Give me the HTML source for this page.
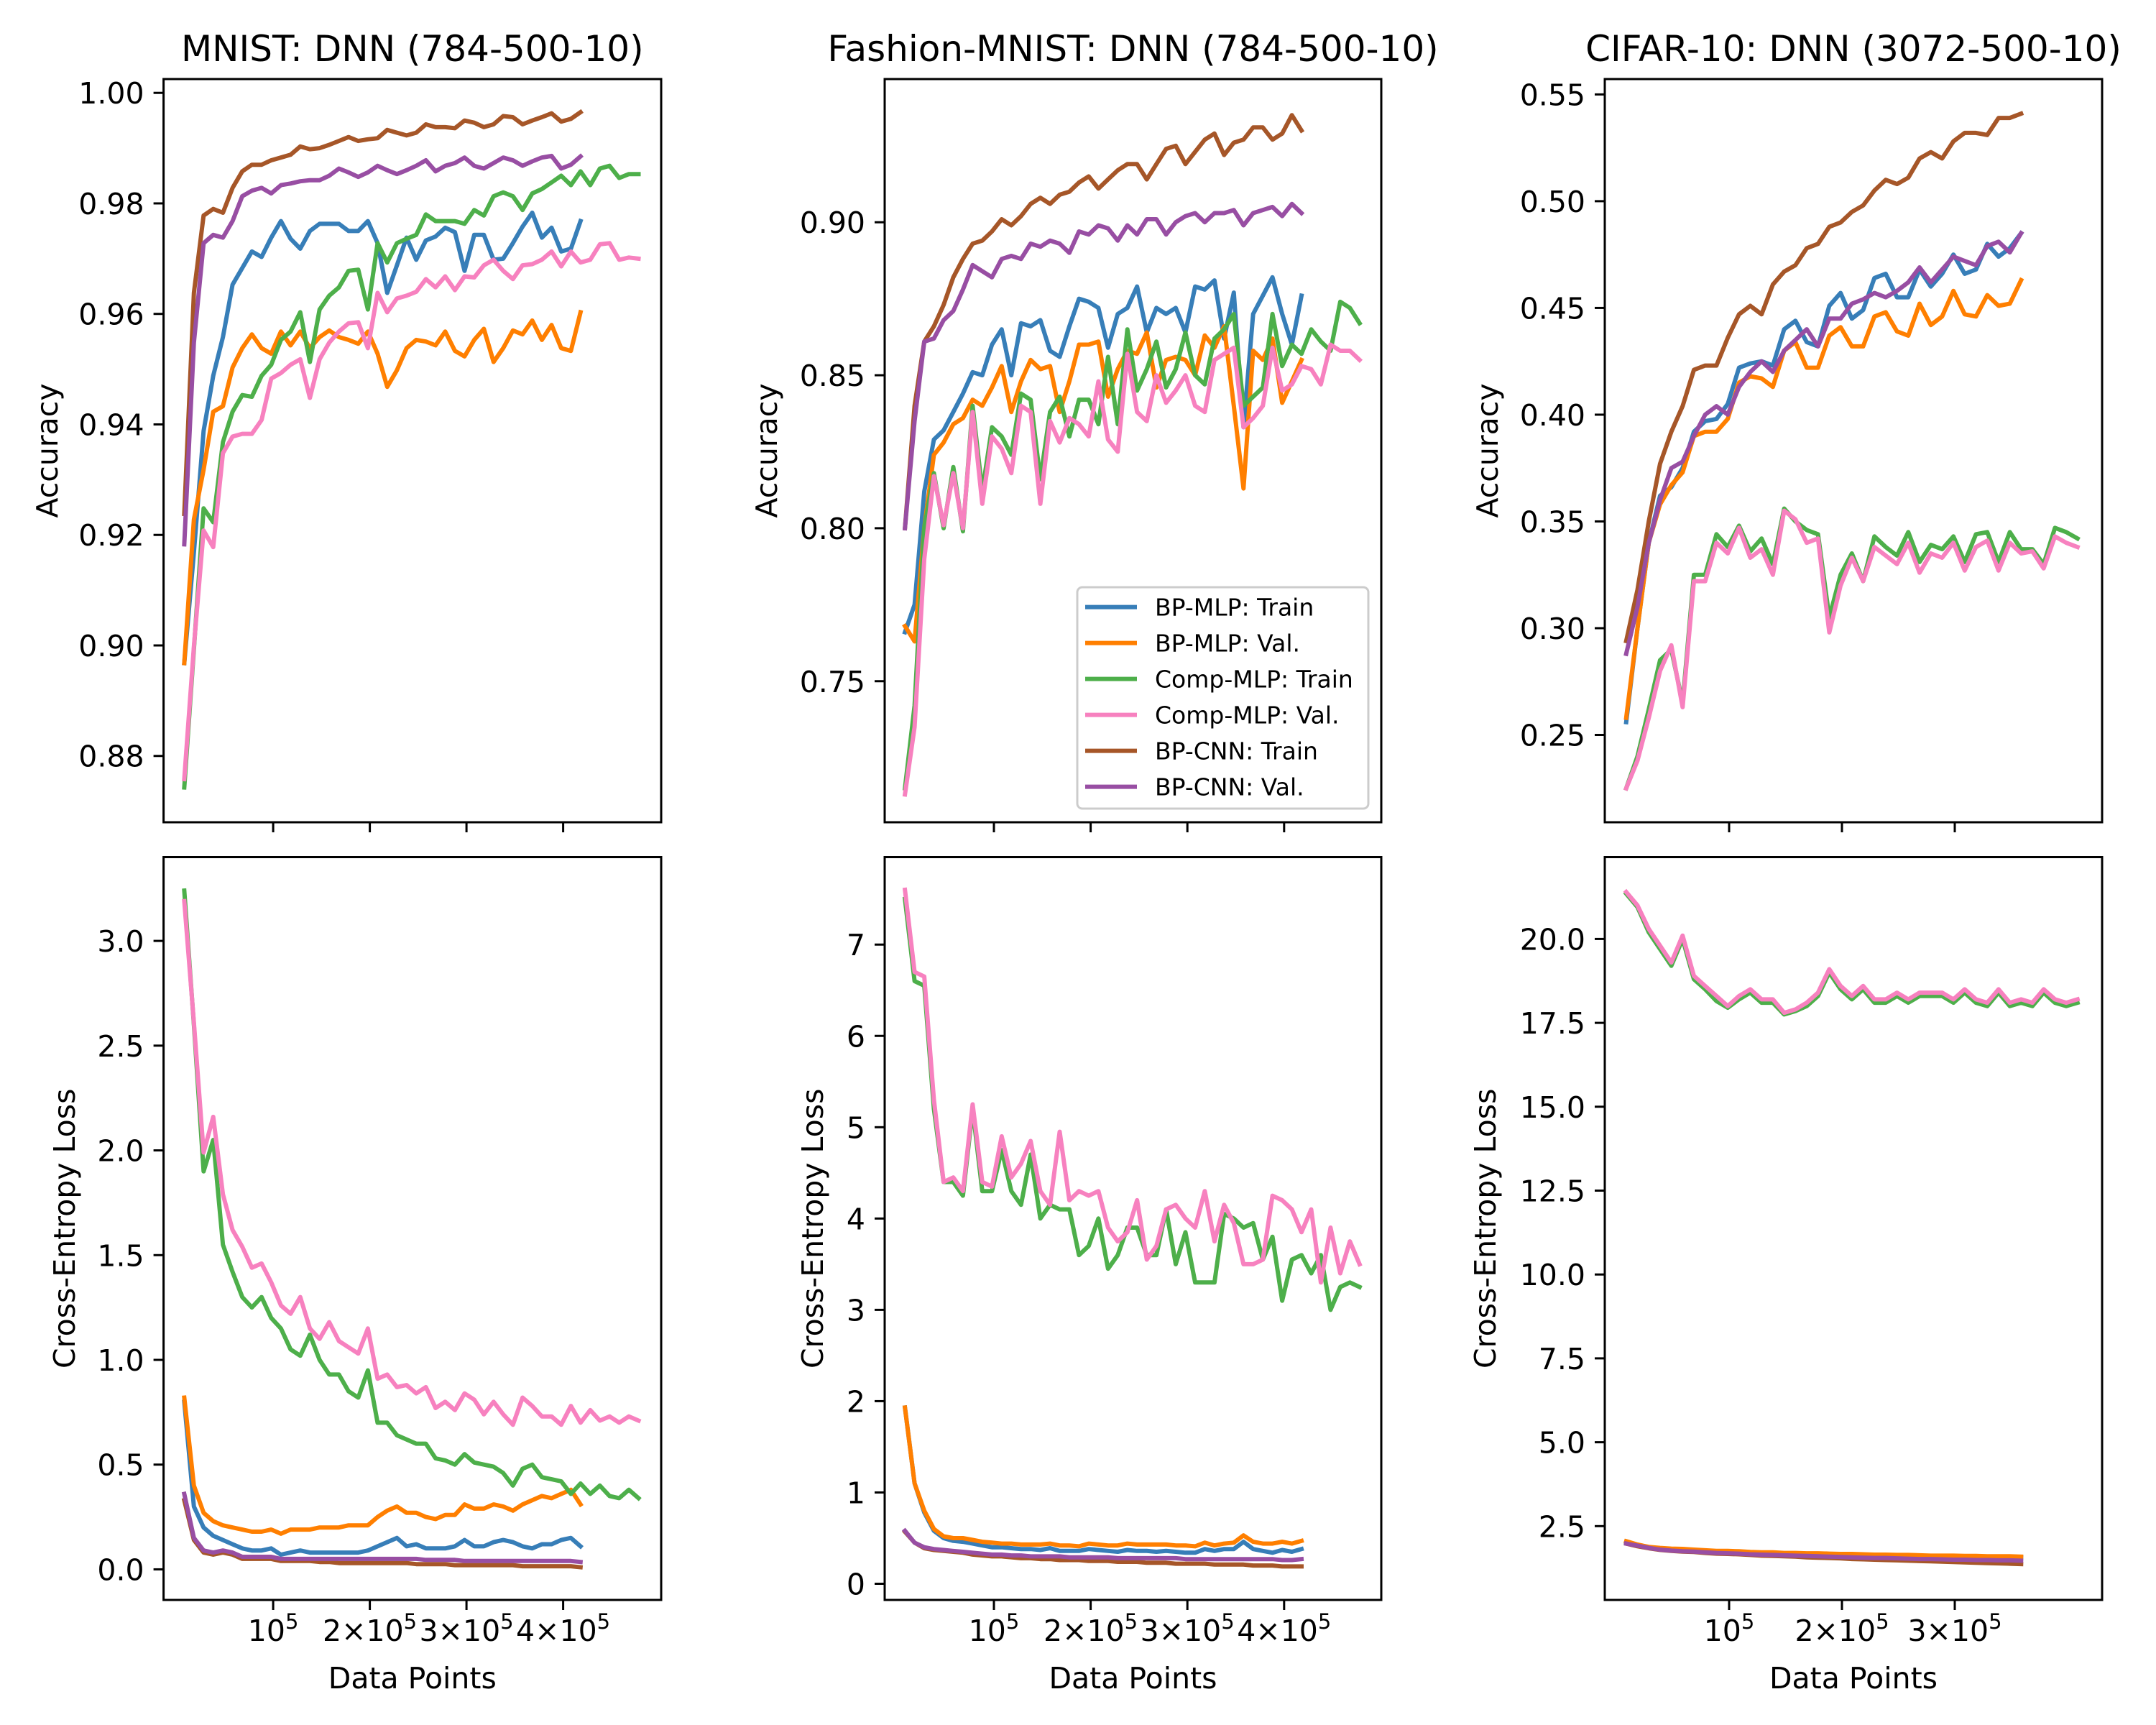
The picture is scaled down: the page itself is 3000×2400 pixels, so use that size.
<!DOCTYPE html>
<html><head><meta charset="utf-8"><title>DNN training curves</title>
<style>
html,body{margin:0;padding:0;background:#fff;}
svg{display:block;font-family:"DejaVu Sans","Liberation Sans",sans-serif;}
</style></head>
<body>
<svg id="fig" width="3000" height="2400" viewBox="0 0 3000 2400" xmlns="http://www.w3.org/2000/svg"></svg>
<script>
// ---------- data ----------
const seriesNames = ["BP-MLP: Train","BP-MLP: Val.","Comp-MLP: Train","Comp-MLP: Val.","BP-CNN: Train","BP-CNN: Val."];
const seriesColors = ["#377eb8","#ff7f00","#4daf4a","#f781bf","#a65628","#984ea3"];

// MNIST accuracy
const mnistAccBpTrain = [.8968,.9168,.9388,.9488,.9558,.9653,.9683,.9713,.9703,.9738,.9768,.9736,.9718,.975,.9763,.9763,.9763,.975,.975,.9768,.9728,.9638,.9688,.9738,.9698,.9733,.974,.9756,.9748,.9678,.9743,.9743,.9698,.97,.9728,.9758,.9783,.9738,.9756,.9713,.9718,.9768];
const mnistAccBpVal = [.8968,.9228,.9318,.9423,.9433,.9503,.9538,.9563,.9538,.9528,.9568,.9543,.9568,.9538,.9558,.957,.9558,.9553,.9546,.9568,.9528,.9468,.9498,.9538,.9553,.955,.9543,.9568,.9533,.9523,.9553,.9573,.9513,.9538,.957,.9563,.9588,.9553,.958,.9538,.9533,.9603];
const mnistAccCompTrain = [.8743,.8993,.9248,.9223,.9368,.9423,.9453,.945,.9488,.9508,.9553,.9568,.9603,.9513,.9608,.9633,.9648,.9678,.968,.9608,.9728,.9693,.9728,.9736,.9743,.978,.9768,.9768,.9768,.9763,.9788,.9778,.9813,.982,.9813,.9788,.9818,.9826,.9838,.985,.9833,.9858,.9833,.9863,.9868,.9846,.9853,.9853];
const mnistAccCompVal = [.8758,.8998,.9208,.9178,.9348,.9378,.9383,.9383,.9408,.9483,.9493,.9508,.9518,.9448,.9518,.9548,.9568,.9583,.9585,.9538,.9638,.9603,.9628,.9633,.964,.9663,.9648,.9668,.9643,.9668,.9666,.9688,.9698,.9678,.9663,.9688,.969,.9698,.9713,.9686,.9713,.9693,.9698,.9726,.9728,.9698,.9702,.97];
const mnistAccCnnTrain = [.9238,.9638,.9778,.979,.9783,.9828,.9858,.987,.987,.9878,.9883,.9888,.9903,.9898,.99,.9906,.9913,.992,.9913,.9916,.9918,.9933,.9928,.9923,.9928,.9943,.9938,.9938,.9936,.995,.9946,.9938,.9943,.9958,.9956,.9943,.995,.9956,.9963,.9948,.9953,.9965];
const mnistAccCnnVal = [.9183,.9548,.9728,.9743,.9738,.9768,.9813,.9823,.9828,.9818,.9833,.9836,.984,.9842,.9842,.985,.9863,.9856,.9848,.9856,.9868,.986,.9853,.986,.9868,.9878,.9858,.9868,.9873,.9883,.9868,.9863,.9873,.9883,.9878,.9868,.9876,.9883,.9886,.9863,.987,.9885];
// MNIST loss
const mnistLossBpTrain = [.80,.30,.20,.16,.14,.12,.10,.09,.09,.10,.07,.08,.09,.08,.08,.08,.08,.08,.08,.09,.11,.13,.15,.11,.12,.10,.10,.10,.11,.14,.11,.11,.13,.14,.13,.11,.10,.12,.12,.14,.15,.11];
const mnistLossBpVal = [.82,.40,.27,.23,.21,.20,.19,.18,.18,.19,.17,.19,.19,.19,.20,.20,.20,.21,.21,.21,.25,.28,.30,.27,.27,.25,.24,.26,.26,.31,.29,.29,.31,.30,.28,.31,.33,.35,.34,.36,.38,.31];
const mnistLossCompTrain = [3.24,2.60,1.90,2.05,1.55,1.42,1.30,1.25,1.30,1.20,1.15,1.05,1.02,1.12,1.00,.93,.93,.85,.82,.95,.70,.70,.64,.62,.60,.60,.53,.52,.50,.55,.51,.50,.49,.46,.40,.48,.50,.44,.43,.42,.36,.41,.36,.40,.35,.34,.38,.34];
const mnistLossCompVal = [3.19,2.61,1.99,2.16,1.79,1.62,1.54,1.44,1.46,1.37,1.26,1.22,1.30,1.15,1.10,1.18,1.09,1.06,1.03,1.15,.91,.93,.87,.88,.84,.87,.77,.80,.76,.84,.81,.74,.80,.74,.69,.82,.78,.73,.73,.69,.78,.70,.76,.71,.73,.70,.73,.71];
const mnistLossCnnTrain = [.33,.14,.08,.07,.08,.07,.05,.05,.05,.05,.04,.04,.04,.04,.035,.035,.03,.03,.03,.03,.03,.03,.03,.03,.025,.025,.025,.025,.02,.02,.02,.02,.02,.02,.02,.015,.015,.015,.015,.015,.015,.01];
const mnistLossCnnVal = [.36,.15,.09,.08,.09,.08,.06,.06,.06,.06,.05,.05,.05,.05,.05,.05,.05,.05,.05,.05,.05,.05,.05,.05,.05,.045,.045,.045,.045,.04,.04,.04,.04,.04,.04,.04,.04,.04,.04,.04,.04,.035];

// Fashion-MNIST accuracy
const fashAccBpTrain = [.766,.775,.812,.829,.832,.838,.844,.851,.850,.860,.865,.850,.867,.866,.868,.858,.856,.866,.875,.874,.872,.859,.870,.872,.879,.864,.872,.870,.872,.864,.879,.878,.881,.862,.877,.833,.870,.876,.882,.870,.860,.876];
const fashAccBpVal = [.768,.763,.800,.824,.828,.834,.836,.842,.840,.846,.853,.838,.848,.855,.852,.853,.838,.848,.860,.860,.861,.843,.852,.858,.857,.864,.846,.855,.856,.855,.850,.863,.859,.866,.840,.813,.858,.855,.862,.841,.848,.855];
const fashAccCompTrain = [.715,.742,.800,.818,.800,.820,.799,.840,.812,.833,.830,.824,.844,.842,.816,.838,.843,.830,.842,.842,.834,.856,.834,.865,.845,.852,.861,.846,.852,.864,.850,.847,.862,.865,.870,.840,.843,.846,.870,.853,.860,.857,.865,.861,.858,.874,.872,.867];
const fashAccCompVal = [.713,.735,.790,.817,.801,.818,.800,.838,.808,.830,.826,.818,.840,.838,.808,.835,.828,.836,.834,.830,.848,.829,.825,.857,.838,.835,.850,.841,.845,.850,.840,.838,.855,.857,.859,.833,.836,.840,.859,.845,.847,.853,.852,.847,.860,.858,.858,.855];
const fashAccCnnTrain = [.800,.840,.861,.866,.873,.882,.888,.893,.894,.897,.901,.899,.902,.906,.908,.906,.909,.910,.913,.915,.911,.914,.917,.919,.919,.914,.919,.924,.925,.919,.923,.927,.929,.922,.926,.927,.931,.931,.927,.929,.935,.930];
const fashAccCnnVal = [.800,.835,.861,.862,.868,.871,.878,.886,.884,.882,.888,.889,.888,.893,.892,.894,.893,.890,.897,.896,.899,.898,.894,.899,.896,.901,.901,.896,.900,.902,.903,.900,.903,.903,.904,.899,.903,.904,.905,.902,.906,.903];
// Fashion-MNIST loss
const fashLossBpTrain = [1.93,1.1,.78,.58,.5,.47,.46,.44,.42,.4,.4,.39,.38,.38,.37,.39,.36,.36,.36,.38,.37,.36,.35,.37,.36,.36,.35,.36,.35,.34,.34,.38,.36,.38,.38,.46,.38,.36,.34,.37,.35,.38];
const fashLossBpVal = [1.93,1.1,.8,.6,.52,.5,.5,.48,.46,.45,.44,.44,.43,.43,.43,.44,.42,.42,.41,.44,.43,.42,.42,.44,.43,.43,.43,.43,.42,.42,.41,.45,.42,.44,.45,.53,.46,.44,.44,.46,.44,.47];
const fashLossCompTrain = [7.5,6.6,6.55,5.2,4.4,4.4,4.25,5.2,4.3,4.3,4.75,4.3,4.15,4.7,4.0,4.15,4.1,4.1,3.6,3.7,4.0,3.45,3.6,3.9,3.9,3.6,3.6,4.1,3.5,3.85,3.3,3.3,3.3,4.05,4.0,3.9,3.95,3.55,3.8,3.1,3.55,3.6,3.4,3.6,3.0,3.25,3.3,3.25];
const fashLossCompVal = [7.6,6.7,6.65,5.3,4.4,4.45,4.3,5.25,4.4,4.35,4.9,4.45,4.6,4.85,4.3,4.15,4.95,4.2,4.3,4.25,4.3,3.9,3.75,3.85,4.2,3.55,3.7,4.1,4.15,4.0,3.9,4.3,3.75,4.15,3.95,3.5,3.5,3.55,4.25,4.2,4.1,3.85,4.1,3.3,3.9,3.4,3.75,3.5];
const fashLossCnnTrain = [.57,.45,.39,.37,.36,.35,.34,.32,.31,.3,.3,.29,.28,.28,.27,.27,.26,.26,.26,.25,.25,.25,.24,.24,.24,.23,.23,.23,.22,.22,.22,.22,.21,.21,.21,.21,.2,.2,.2,.19,.19,.19];
const fashLossCnnVal = [.58,.45,.4,.38,.37,.36,.35,.34,.33,.32,.32,.31,.31,.3,.3,.3,.3,.29,.29,.29,.29,.29,.28,.28,.28,.28,.28,.28,.28,.27,.27,.27,.27,.27,.27,.27,.27,.27,.27,.26,.26,.27];

// CIFAR-10 accuracy
const cifarAccBpTrain = [.256,.30,.34,.362,.366,.375,.392,.397,.398,.405,.422,.424,.425,.423,.44,.444,.434,.432,.451,.457,.445,.449,.464,.466,.455,.455,.468,.46,.466,.475,.466,.468,.48,.474,.478,.485];
const cifarAccBpVal = [.258,.30,.34,.358,.367,.373,.39,.392,.392,.398,.415,.418,.417,.413,.43,.434,.422,.422,.437,.441,.432,.432,.446,.448,.439,.437,.452,.442,.446,.458,.447,.446,.456,.451,.452,.463];
const cifarAccCompTrain = [.225,.24,.262,.285,.29,.265,.325,.325,.344,.338,.348,.336,.342,.33,.356,.35,.346,.344,.305,.325,.335,.322,.343,.338,.334,.345,.331,.339,.337,.343,.331,.344,.345,.331,.345,.337,.337,.33,.347,.345,.342];
const cifarAccCompVal = [.225,.238,.258,.28,.292,.263,.322,.322,.34,.335,.347,.333,.337,.325,.355,.351,.34,.342,.298,.32,.333,.322,.338,.334,.33,.34,.326,.335,.333,.34,.327,.338,.341,.327,.34,.335,.336,.328,.343,.34,.338];
const cifarAccCnnTrain = [.294,.318,.35,.377,.392,.404,.421,.423,.423,.436,.447,.451,.447,.461,.467,.47,.478,.48,.488,.49,.495,.498,.505,.51,.508,.511,.52,.523,.52,.528,.532,.532,.531,.539,.539,.541];
const cifarAccCnnVal = [.288,.31,.34,.36,.375,.378,.39,.40,.404,.40,.413,.42,.425,.42,.43,.435,.44,.432,.445,.445,.452,.454,.457,.455,.458,.462,.469,.462,.468,.474,.472,.47,.479,.481,.476,.485];
// CIFAR-10 loss
const cifarLossBpTrain = [2.03,1.93,1.86,1.83,1.81,1.80,1.78,1.76,1.74,1.74,1.73,1.71,1.70,1.70,1.68,1.68,1.67,1.67,1.66,1.65,1.65,1.64,1.63,1.63,1.62,1.62,1.61,1.60,1.60,1.60,1.59,1.59,1.58,1.58,1.58,1.57];
const cifarLossBpVal = [2.05,1.95,1.88,1.85,1.83,1.82,1.80,1.78,1.76,1.76,1.75,1.73,1.72,1.72,1.70,1.70,1.69,1.69,1.68,1.67,1.67,1.66,1.65,1.65,1.64,1.64,1.63,1.62,1.62,1.62,1.61,1.61,1.60,1.60,1.60,1.59];
const cifarLossCompTrain = [21.35,20.95,20.2,19.7,19.2,20.0,18.8,18.5,18.15,17.95,18.2,18.4,18.1,18.1,17.75,17.85,18.0,18.3,19.0,18.5,18.2,18.5,18.1,18.1,18.3,18.1,18.3,18.3,18.3,18.1,18.4,18.1,18.0,18.4,18.0,18.1,18.0,18.4,18.1,18.0,18.1];
const cifarLossCompVal = [21.4,21.0,20.3,19.8,19.3,20.1,18.9,18.6,18.3,18.0,18.3,18.5,18.2,18.2,17.8,17.9,18.1,18.4,19.1,18.6,18.3,18.6,18.2,18.2,18.4,18.2,18.4,18.4,18.4,18.2,18.5,18.2,18.1,18.5,18.1,18.2,18.1,18.5,18.2,18.1,18.2];
const cifarLossCnnTrain = [1.98,1.9,1.84,1.79,1.76,1.74,1.73,1.70,1.68,1.67,1.66,1.64,1.62,1.61,1.60,1.59,1.57,1.56,1.55,1.54,1.52,1.51,1.50,1.49,1.48,1.47,1.46,1.45,1.44,1.43,1.42,1.41,1.40,1.39,1.38,1.37];
const cifarLossCnnVal = [1.98,1.92,1.85,1.80,1.77,1.75,1.74,1.72,1.70,1.69,1.68,1.66,1.65,1.64,1.63,1.62,1.61,1.60,1.59,1.58,1.57,1.56,1.55,1.55,1.54,1.53,1.52,1.52,1.51,1.50,1.50,1.49,1.49,1.48,1.48,1.47];

// x sampling (data points): first sample and spacing
const mnistXStart = 8000, fashXStart = 8000, cifarXStart = 8800, xStep = 10000;

// tick values / labels
const xTicksWide = [100000,200000,300000,400000];
const xTickLabelsWide = [["","10","5"],["2×","10","5"],["3×","10","5"],["4×","10","5"]];
const xTicksNarrow = [100000,200000,300000];
const xTickLabelsNarrow = [["","10","5"],["2×","10","5"],["3×","10","5"]];
const mnistAccTicks = [0.88,0.90,0.92,0.94,0.96,0.98,1.00];
const mnistAccTickLabels = ["0.88","0.90","0.92","0.94","0.96","0.98","1.00"];
const mnistLossTicks = [0,0.5,1,1.5,2,2.5,3];
const mnistLossTickLabels = ["0.0","0.5","1.0","1.5","2.0","2.5","3.0"];
const fashAccTicks = [0.75,0.80,0.85,0.90];
const fashAccTickLabels = ["0.75","0.80","0.85","0.90"];
const fashLossTicks = [0,1,2,3,4,5,6,7];
const fashLossTickLabels = ["0","1","2","3","4","5","6","7"];
const cifarAccTicks = [0.25,0.30,0.35,0.40,0.45,0.50,0.55];
const cifarAccTickLabels = ["0.25","0.30","0.35","0.40","0.45","0.50","0.55"];
const cifarLossTicks = [2.5,5,7.5,10,12.5,15,17.5,20];
const cifarLossTickLabels = ["2.5","5.0","7.5","10.0","12.5","15.0","17.5","20.0"];

// ---------- drawing ----------
const NS = "http://www.w3.org/2000/svg";
const svg = document.getElementById("fig");
function mk(tag, attrs, parent){
  const e = document.createElementNS(NS, tag);
  for (const k in attrs) e.setAttribute(k, attrs[k]);
  (parent||svg).appendChild(e);
  return e;
}

const TOP_T = 110, TOP_B = 1144, BOT_T = 1192.5, BOT_B = 2226;
const LW = 6;

const panels = [
 {key:"mnist-acc", box:[227.6,TOP_T,920,TOP_B], xd:[-13383,501413], yd:[0.868,1.0025], xs:mnistXStart,
  series:[mnistAccBpTrain,mnistAccBpVal,mnistAccCompTrain,mnistAccCompVal,mnistAccCnnTrain,mnistAccCnnVal],
  yt:mnistAccTicks, ytl:mnistAccTickLabels, xt:xTicksWide, xtl:null, title:"MNIST: DNN (784-500-10)", ylabel:"Accuracy", ylx:66},
 {key:"mnist-loss", box:[227.6,BOT_T,920,BOT_B], xd:[-13383,501413], yd:[-0.146,3.40], xs:mnistXStart,
  series:[mnistLossBpTrain,mnistLossBpVal,mnistLossCompTrain,mnistLossCompVal,mnistLossCnnTrain,mnistLossCnnVal],
  yt:mnistLossTicks, ytl:mnistLossTickLabels, xt:xTicksWide, xtl:xTickLabelsWide, ylabel:"Cross-Entropy Loss", ylx:90},
 {key:"fashion-acc", box:[1231,TOP_T,1922,TOP_B], xd:[-12927,500446], yd:[0.7039,0.9468], xs:fashXStart,
  series:[fashAccBpTrain,fashAccBpVal,fashAccCompTrain,fashAccCompVal,fashAccCnnTrain,fashAccCnnVal],
  yt:fashAccTicks, ytl:fashAccTickLabels, xt:xTicksWide, xtl:null, title:"Fashion-MNIST: DNN (784-500-10)", ylabel:"Accuracy", ylx:1067, legend:true},
 {key:"fashion-loss", box:[1231,BOT_T,1922,BOT_B], xd:[-12927,500446], yd:[-0.177,7.958], xs:fashXStart,
  series:[fashLossBpTrain,fashLossBpVal,fashLossCompTrain,fashLossCompVal,fashLossCnnTrain,fashLossCnnVal],
  yt:fashLossTicks, ytl:fashLossTickLabels, xt:xTicksWide, xtl:xTickLabelsWide, ylabel:"Cross-Entropy Loss", ylx:1131},
 {key:"cifar-acc", box:[2233,TOP_T,2925,TOP_B], xd:[-10191,430573], yd:[0.2091,0.5572], xs:cifarXStart,
  series:[cifarAccBpTrain,cifarAccBpVal,cifarAccCompTrain,cifarAccCompVal,cifarAccCnnTrain,cifarAccCnnVal],
  yt:cifarAccTicks, ytl:cifarAccTickLabels, xt:xTicksNarrow, xtl:null, title:"CIFAR-10: DNN (3072-500-10)", ylabel:"Accuracy", ylx:2070},
 {key:"cifar-loss", box:[2233,BOT_T,2925,BOT_B], xd:[-10191,430573], yd:[0.30,22.44], xs:cifarXStart,
  series:[cifarLossBpTrain,cifarLossBpVal,cifarLossCompTrain,cifarLossCompVal,cifarLossCnnTrain,cifarLossCnnVal],
  yt:cifarLossTicks, ytl:cifarLossTickLabels, xt:xTicksNarrow, xtl:xTickLabelsNarrow, ylabel:"Cross-Entropy Loss", ylx:2067}
];

panels.forEach(p => {
  const [l,t,r,b] = p.box;
  const sx = v => l + (v - p.xd[0]) / (p.xd[1]-p.xd[0]) * (r-l);
  const sy = v => b - (v - p.yd[0]) / (p.yd[1]-p.yd[0]) * (b-t);
  const g = mk("g", {});
  
  
  const cid = "clip-" + p.key;
  const cp = mk("clipPath", {id:cid}, g);
  mk("rect", {x:l, y:t, width:r-l, height:b-t}, cp);

  const lg = mk("g", {"clip-path":"url(#"+cid+")"}, g);
  p.series.forEach((arr, si) => {
    const pts = arr.map((v,i) => sx(p.xs + i*xStep).toFixed(1) + "," + sy(v).toFixed(1)).join(" ");
    const pl = mk("polyline", {points:pts, fill:"none", stroke:seriesColors[si], "stroke-width":LW, "stroke-linejoin":"round", "stroke-linecap":"square"}, lg);
    
    
  });

  const fr = mk("rect", {x:l, y:t, width:r-l, height:b-t, fill:"none", stroke:"#000", "stroke-width":3}, g);
  
  

  p.yt.forEach((v,i) => {
    const y = sy(v);
    mk("line", {x1:l-14, x2:l, y1:y, y2:y, stroke:"#000", "stroke-width":3}, g);
    const tx = mk("text", {x:l-27, y:y+15, "text-anchor":"end", "font-size":41, fill:"#000"}, g);
    tx.textContent = p.ytl[i];
    
    
  });
  p.xt.forEach((v,i) => {
    const x = sx(v);
    mk("line", {x1:x, x2:x, y1:b, y2:b+14, stroke:"#000", "stroke-width":3}, g);
    if (p.xtl) {
      const lab = p.xtl[i];
      const tx = mk("text", {x:x, y:b+57, "text-anchor":"middle", "font-size":41, fill:"#000"}, g);
      
      
      const s1 = mk("tspan", {}, tx); s1.textContent = lab[0] + lab[1];
      const s2 = mk("tspan", {"font-size":29, dy:-17}, tx); s2.textContent = lab[2];
    }
  });
  if (p.xtl) {
    const xl = mk("text", {x:(l+r)/2, y:b+123, "text-anchor":"middle", "font-size":41, fill:"#000"}, g);
    xl.textContent = "Data Points";
    
    
  }
  const cy = (t+b)/2;
  const yl = mk("text", {x:p.ylx, y:cy, "text-anchor":"middle", "dominant-baseline":"central", "font-size":41, fill:"#000", transform:"rotate(-90 "+p.ylx+" "+cy+")"}, g);
  yl.textContent = p.ylabel;
  
  
  if (p.title) {
    const tt = mk("text", {x:(l+r)/2, y:t-25, "text-anchor":"middle", "font-size":50, fill:"#000"}, g);
    tt.textContent = p.title;
    
    
  }
  if (p.legend) {
    const lgd = mk("g", {}, g);
    
    
    mk("rect", {x:1499, y:817, width:405, height:308, rx:7, fill:"#fff", "fill-opacity":0.8, stroke:"#cccccc", "stroke-width":3}, lgd);
    const rowsY = [844.6,894.6,944.6,994.6,1044.6,1094.6];
    seriesNames.forEach((nm, si) => {
      const ey = rowsY[si];
      const en = mk("g", {}, lgd);
      
      
      mk("line", {x1:1510, x2:1582, y1:ey, y2:ey, stroke:seriesColors[si], "stroke-width":LW}, en);
      const tx = mk("text", {x:1607, y:ey+12, "font-size":33, fill:"#000"}, en);
      tx.textContent = nm;
    });
  }
});
</script>
</body></html>
